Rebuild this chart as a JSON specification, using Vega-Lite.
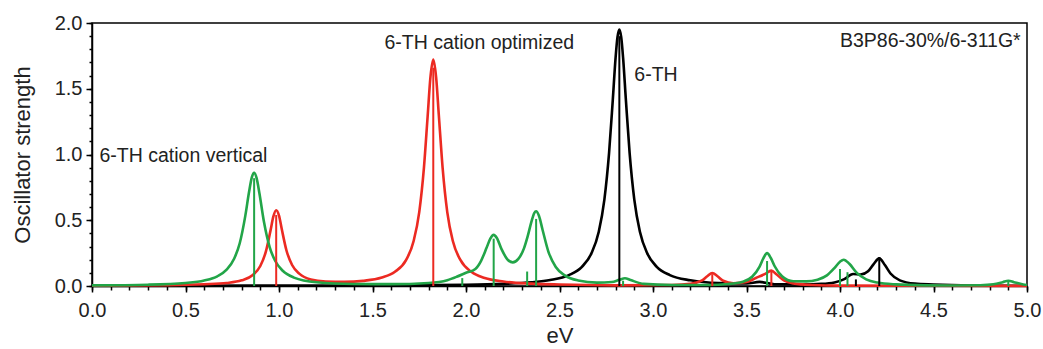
{
  "$schema": "https://vega.github.io/schema/vega-lite/v6.json",
  "width": 935,
  "height": 263,
  "autosize": {"type": "none"},
  "padding": {"left": 92, "top": 23, "right": 16, "bottom": 63},
  "background": "white",
  "config": {
    "view": {"stroke": "#000", "strokeWidth": 1.5},
    "font": "Liberation Sans",
    "axis": {"grid": false, "domainColor": "#000", "domainWidth": 1.5, "tickColor": "#000", "tickWidth": 1.5, "labelColor": "#222", "titleColor": "#222", "labelFont": "Liberation Sans", "titleFont": "Liberation Sans"}
  },
  "datasets": {
    "curves": [
      {"s": "6-TH", "x": 0, "y": 0.001}, {"s": "6-TH", "x": 1.5, "y": 0.004}, {"s": "6-TH", "x": 2.0, "y": 0.009}, {"s": "6-TH", "x": 2.2, "y": 0.016}, {"s": "6-TH", "x": 2.35, "y": 0.028}, {"s": "6-TH", "x": 2.45, "y": 0.045}, {"s": "6-TH", "x": 2.55, "y": 0.083}, {"s": "6-TH", "x": 2.62, "y": 0.146}, {"s": "6-TH", "x": 2.67, "y": 0.246}, {"s": "6-TH", "x": 2.71, "y": 0.413}, {"s": "6-TH", "x": 2.74, "y": 0.657}, {"s": "6-TH", "x": 2.765, "y": 1.01}, {"s": "6-TH", "x": 2.785, "y": 1.416}, {"s": "6-TH", "x": 2.8, "y": 1.737}, {"s": "6-TH", "x": 2.81, "y": 1.892}, {"s": "6-TH", "x": 2.82, "y": 1.95}, {"s": "6-TH", "x": 2.83, "y": 1.892}, {"s": "6-TH", "x": 2.84, "y": 1.737}, {"s": "6-TH", "x": 2.855, "y": 1.416}, {"s": "6-TH", "x": 2.875, "y": 1.01}, {"s": "6-TH", "x": 2.9, "y": 0.657}, {"s": "6-TH", "x": 2.93, "y": 0.413}, {"s": "6-TH", "x": 2.97, "y": 0.246}, {"s": "6-TH", "x": 3.02, "y": 0.146}, {"s": "6-TH", "x": 3.09, "y": 0.083}, {"s": "6-TH", "x": 3.2, "y": 0.043}, {"s": "6-TH", "x": 3.35, "y": 0.022}, {"s": "6-TH", "x": 3.5, "y": 0.019}, {"s": "6-TH", "x": 3.57, "y": 0.031}, {"s": "6-TH", "x": 3.65, "y": 0.013}, {"s": "6-TH", "x": 3.8, "y": 0.012}, {"s": "6-TH", "x": 3.9, "y": 0.016}, {"s": "6-TH", "x": 3.97, "y": 0.027}, {"s": "6-TH", "x": 4.02, "y": 0.05}, {"s": "6-TH", "x": 4.07, "y": 0.091}, {"s": "6-TH", "x": 4.11, "y": 0.087}, {"s": "6-TH", "x": 4.15, "y": 0.112}, {"s": "6-TH", "x": 4.18, "y": 0.167}, {"s": "6-TH", "x": 4.21, "y": 0.21}, {"s": "6-TH", "x": 4.24, "y": 0.159}, {"s": "6-TH", "x": 4.27, "y": 0.095}, {"s": "6-TH", "x": 4.32, "y": 0.043}, {"s": "6-TH", "x": 4.4, "y": 0.018}, {"s": "6-TH", "x": 4.5, "y": 0.011}, {"s": "6-TH", "x": 4.7, "y": 0.004}, {"s": "6-TH", "x": 5.0, "y": 0.002},

      {"s": "6-TH cation optimized", "x": 0, "y": 0.003}, {"s": "6-TH cation optimized", "x": 0.4, "y": 0.006}, {"s": "6-TH cation optimized", "x": 0.6, "y": 0.013}, {"s": "6-TH cation optimized", "x": 0.72, "y": 0.023}, {"s": "6-TH cation optimized", "x": 0.8, "y": 0.043}, {"s": "6-TH cation optimized", "x": 0.86, "y": 0.084}, {"s": "6-TH cation optimized", "x": 0.9, "y": 0.152}, {"s": "6-TH cation optimized", "x": 0.93, "y": 0.263}, {"s": "6-TH cation optimized", "x": 0.955, "y": 0.425}, {"s": "6-TH cation optimized", "x": 0.97, "y": 0.529}, {"s": "6-TH cation optimized", "x": 0.985, "y": 0.576}, {"s": "6-TH cation optimized", "x": 1.0, "y": 0.535}, {"s": "6-TH cation optimized", "x": 1.015, "y": 0.431}, {"s": "6-TH cation optimized", "x": 1.04, "y": 0.27}, {"s": "6-TH cation optimized", "x": 1.07, "y": 0.16}, {"s": "6-TH cation optimized", "x": 1.11, "y": 0.092}, {"s": "6-TH cation optimized", "x": 1.17, "y": 0.05}, {"s": "6-TH cation optimized", "x": 1.25, "y": 0.034}, {"s": "6-TH cation optimized", "x": 1.35, "y": 0.031}, {"s": "6-TH cation optimized", "x": 1.45, "y": 0.039}, {"s": "6-TH cation optimized", "x": 1.55, "y": 0.064}, {"s": "6-TH cation optimized", "x": 1.62, "y": 0.108}, {"s": "6-TH cation optimized", "x": 1.68, "y": 0.199}, {"s": "6-TH cation optimized", "x": 1.72, "y": 0.342}, {"s": "6-TH cation optimized", "x": 1.75, "y": 0.562}, {"s": "6-TH cation optimized", "x": 1.775, "y": 0.898}, {"s": "6-TH cation optimized", "x": 1.795, "y": 1.293}, {"s": "6-TH cation optimized", "x": 1.81, "y": 1.59}, {"s": "6-TH cation optimized", "x": 1.825, "y": 1.722}, {"s": "6-TH cation optimized", "x": 1.84, "y": 1.59}, {"s": "6-TH cation optimized", "x": 1.855, "y": 1.293}, {"s": "6-TH cation optimized", "x": 1.875, "y": 0.898}, {"s": "6-TH cation optimized", "x": 1.9, "y": 0.56}, {"s": "6-TH cation optimized", "x": 1.93, "y": 0.34}, {"s": "6-TH cation optimized", "x": 1.97, "y": 0.198}, {"s": "6-TH cation optimized", "x": 2.03, "y": 0.106}, {"s": "6-TH cation optimized", "x": 2.1, "y": 0.061}, {"s": "6-TH cation optimized", "x": 2.2, "y": 0.034}, {"s": "6-TH cation optimized", "x": 2.35, "y": 0.018}, {"s": "6-TH cation optimized", "x": 2.5, "y": 0.011}, {"s": "6-TH cation optimized", "x": 2.8, "y": 0.005}, {"s": "6-TH cation optimized", "x": 3.1, "y": 0.008}, {"s": "6-TH cation optimized", "x": 3.2, "y": 0.016}, {"s": "6-TH cation optimized", "x": 3.26, "y": 0.04}, {"s": "6-TH cation optimized", "x": 3.29, "y": 0.074}, {"s": "6-TH cation optimized", "x": 3.317, "y": 0.099}, {"s": "6-TH cation optimized", "x": 3.345, "y": 0.074}, {"s": "6-TH cation optimized", "x": 3.375, "y": 0.04}, {"s": "6-TH cation optimized", "x": 3.43, "y": 0.021}, {"s": "6-TH cation optimized", "x": 3.5, "y": 0.03}, {"s": "6-TH cation optimized", "x": 3.55, "y": 0.061}, {"s": "6-TH cation optimized", "x": 3.6, "y": 0.092}, {"s": "6-TH cation optimized", "x": 3.633, "y": 0.117}, {"s": "6-TH cation optimized", "x": 3.66, "y": 0.089}, {"s": "6-TH cation optimized", "x": 3.7, "y": 0.042}, {"s": "6-TH cation optimized", "x": 3.75, "y": 0.02}, {"s": "6-TH cation optimized", "x": 3.85, "y": 0.008}, {"s": "6-TH cation optimized", "x": 4.0, "y": 0.003}, {"s": "6-TH cation optimized", "x": 5.0, "y": 0.001},

      {"s": "6-TH cation vertical", "x": 0, "y": 0.005}, {"s": "6-TH cation vertical", "x": 0.3, "y": 0.01}, {"s": "6-TH cation vertical", "x": 0.5, "y": 0.023}, {"s": "6-TH cation vertical", "x": 0.6, "y": 0.042}, {"s": "6-TH cation vertical", "x": 0.67, "y": 0.074}, {"s": "6-TH cation vertical", "x": 0.72, "y": 0.124}, {"s": "6-TH cation vertical", "x": 0.76, "y": 0.207}, {"s": "6-TH cation vertical", "x": 0.79, "y": 0.325}, {"s": "6-TH cation vertical", "x": 0.82, "y": 0.535}, {"s": "6-TH cation vertical", "x": 0.84, "y": 0.716}, {"s": "6-TH cation vertical", "x": 0.855, "y": 0.828}, {"s": "6-TH cation vertical", "x": 0.867, "y": 0.861}, {"s": "6-TH cation vertical", "x": 0.88, "y": 0.822}, {"s": "6-TH cation vertical", "x": 0.895, "y": 0.707}, {"s": "6-TH cation vertical", "x": 0.92, "y": 0.484}, {"s": "6-TH cation vertical", "x": 0.95, "y": 0.296}, {"s": "6-TH cation vertical", "x": 0.98, "y": 0.19}, {"s": "6-TH cation vertical", "x": 1.02, "y": 0.116}, {"s": "6-TH cation vertical", "x": 1.08, "y": 0.064}, {"s": "6-TH cation vertical", "x": 1.2, "y": 0.028}, {"s": "6-TH cation vertical", "x": 1.4, "y": 0.015}, {"s": "6-TH cation vertical", "x": 1.6, "y": 0.014}, {"s": "6-TH cation vertical", "x": 1.8, "y": 0.023}, {"s": "6-TH cation vertical", "x": 1.9, "y": 0.044}, {"s": "6-TH cation vertical", "x": 1.95, "y": 0.07}, {"s": "6-TH cation vertical", "x": 2.0, "y": 0.101}, {"s": "6-TH cation vertical", "x": 2.05, "y": 0.13}, {"s": "6-TH cation vertical", "x": 2.08, "y": 0.19}, {"s": "6-TH cation vertical", "x": 2.11, "y": 0.29}, {"s": "6-TH cation vertical", "x": 2.13, "y": 0.36}, {"s": "6-TH cation vertical", "x": 2.148, "y": 0.389}, {"s": "6-TH cation vertical", "x": 2.165, "y": 0.365}, {"s": "6-TH cation vertical", "x": 2.19, "y": 0.28}, {"s": "6-TH cation vertical", "x": 2.22, "y": 0.205}, {"s": "6-TH cation vertical", "x": 2.25, "y": 0.18}, {"s": "6-TH cation vertical", "x": 2.28, "y": 0.206}, {"s": "6-TH cation vertical", "x": 2.31, "y": 0.286}, {"s": "6-TH cation vertical", "x": 2.33, "y": 0.379}, {"s": "6-TH cation vertical", "x": 2.35, "y": 0.49}, {"s": "6-TH cation vertical", "x": 2.365, "y": 0.555}, {"s": "6-TH cation vertical", "x": 2.375, "y": 0.568}, {"s": "6-TH cation vertical", "x": 2.39, "y": 0.534}, {"s": "6-TH cation vertical", "x": 2.41, "y": 0.424}, {"s": "6-TH cation vertical", "x": 2.44, "y": 0.264}, {"s": "6-TH cation vertical", "x": 2.48, "y": 0.144}, {"s": "6-TH cation vertical", "x": 2.53, "y": 0.079}, {"s": "6-TH cation vertical", "x": 2.6, "y": 0.042}, {"s": "6-TH cation vertical", "x": 2.7, "y": 0.026}, {"s": "6-TH cation vertical", "x": 2.78, "y": 0.03}, {"s": "6-TH cation vertical", "x": 2.82, "y": 0.047}, {"s": "6-TH cation vertical", "x": 2.85, "y": 0.059}, {"s": "6-TH cation vertical", "x": 2.88, "y": 0.045}, {"s": "6-TH cation vertical", "x": 2.95, "y": 0.016}, {"s": "6-TH cation vertical", "x": 3.1, "y": 0.008}, {"s": "6-TH cation vertical", "x": 3.3, "y": 0.008}, {"s": "6-TH cation vertical", "x": 3.4, "y": 0.015}, {"s": "6-TH cation vertical", "x": 3.48, "y": 0.033}, {"s": "6-TH cation vertical", "x": 3.53, "y": 0.07}, {"s": "6-TH cation vertical", "x": 3.57, "y": 0.148}, {"s": "6-TH cation vertical", "x": 3.59, "y": 0.21}, {"s": "6-TH cation vertical", "x": 3.61, "y": 0.25}, {"s": "6-TH cation vertical", "x": 3.63, "y": 0.213}, {"s": "6-TH cation vertical", "x": 3.65, "y": 0.152}, {"s": "6-TH cation vertical", "x": 3.69, "y": 0.074}, {"s": "6-TH cation vertical", "x": 3.75, "y": 0.036}, {"s": "6-TH cation vertical", "x": 3.82, "y": 0.035}, {"s": "6-TH cation vertical", "x": 3.88, "y": 0.048}, {"s": "6-TH cation vertical", "x": 3.93, "y": 0.081}, {"s": "6-TH cation vertical", "x": 3.97, "y": 0.136}, {"s": "6-TH cation vertical", "x": 4.0, "y": 0.185}, {"s": "6-TH cation vertical", "x": 4.02, "y": 0.2}, {"s": "6-TH cation vertical", "x": 4.05, "y": 0.169}, {"s": "6-TH cation vertical", "x": 4.09, "y": 0.1}, {"s": "6-TH cation vertical", "x": 4.14, "y": 0.051}, {"s": "6-TH cation vertical", "x": 4.2, "y": 0.026}, {"s": "6-TH cation vertical", "x": 4.3, "y": 0.012}, {"s": "6-TH cation vertical", "x": 4.45, "y": 0.005}, {"s": "6-TH cation vertical", "x": 4.6, "y": 0.004}, {"s": "6-TH cation vertical", "x": 4.75, "y": 0.006}, {"s": "6-TH cation vertical", "x": 4.82, "y": 0.013}, {"s": "6-TH cation vertical", "x": 4.87, "y": 0.029}, {"s": "6-TH cation vertical", "x": 4.9, "y": 0.04}, {"s": "6-TH cation vertical", "x": 4.93, "y": 0.029}, {"s": "6-TH cation vertical", "x": 4.98, "y": 0.012}, {"s": "6-TH cation vertical", "x": 5.0, "y": 0.008}
    ],
    "sticks": [
      {"s": "6-TH", "x": 2.82, "f": 1.9}, {"s": "6-TH", "x": 4.085, "f": 0.05}, {"s": "6-TH", "x": 4.21, "f": 0.22},
      {"s": "6-TH cation optimized", "x": 0.985, "f": 0.54}, {"s": "6-TH cation optimized", "x": 1.825, "f": 1.66}, {"s": "6-TH cation optimized", "x": 3.317, "f": 0.09}, {"s": "6-TH cation optimized", "x": 3.633, "f": 0.12},
      {"s": "6-TH cation vertical", "x": 0.867, "f": 0.82}, {"s": "6-TH cation vertical", "x": 1.98, "f": 0.06}, {"s": "6-TH cation vertical", "x": 2.148, "f": 0.36}, {"s": "6-TH cation vertical", "x": 2.327, "f": 0.11}, {"s": "6-TH cation vertical", "x": 2.375, "f": 0.51}, {"s": "6-TH cation vertical", "x": 2.84, "f": 0.04}, {"s": "6-TH cation vertical", "x": 3.61, "f": 0.19}, {"s": "6-TH cation vertical", "x": 4.0, "f": 0.13}, {"s": "6-TH cation vertical", "x": 4.04, "f": 0.105}, {"s": "6-TH cation vertical", "x": 4.9, "f": 0.04}
    ],
    "labels": [
      {"x": 0.04, "y": 0.945, "t": "6-TH cation vertical"},
      {"x": 1.564, "y": 1.805, "t": "6-TH cation optimized"},
      {"x": 2.9, "y": 1.56, "t": "6-TH"},
      {"x": 4.0, "y": 1.815, "t": "B3P86-30%/6-311G*"}
    ]
  },
  "layer": [
    {
      "data": {"name": "curves"},
      "mark": {"type": "line", "strokeWidth": 2.6, "interpolate": "monotone"},
      "encoding": {
        "x": {"field": "x", "type": "quantitative", "scale": {"domain": [0, 5], "nice": false, "zero": false},
          "axis": {"orient": "bottom", "values": [0, 0.5, 1, 1.5, 2, 2.5, 3, 3.5, 4, 4.5, 5], "format": ".1f", "labelFontSize": 20, "labelPadding": 8, "tickSize": 6, "labelFlush": false, "labelOverlap": false, "title": "eV", "titleFontSize": 22, "titleFontWeight": "normal", "titlePadding": 5}},
        "y": {"field": "y", "type": "quantitative", "scale": {"domain": [0, 2], "nice": false},
          "axis": {"orient": "left", "values": [0, 0.5, 1, 1.5, 2], "format": ".1f", "labelFontSize": 20, "labelPadding": 4, "tickSize": 6, "labelFlush": false, "labelOverlap": false, "title": "Oscillator strength", "titleFontSize": 22, "titleFontWeight": "normal", "titlePadding": 20}},
        "color": {"field": "s", "type": "nominal", "scale": {"domain": ["6-TH", "6-TH cation optimized", "6-TH cation vertical"], "range": ["#000000", "#ec2a22", "#22a548"]}, "legend": null}
      }
    },
    {
      "data": {"name": "sticks"},
      "mark": {"type": "rule", "strokeWidth": 2},
      "encoding": {
        "x": {"field": "x", "type": "quantitative",
          "axis": {"orient": "bottom", "values": [0, 0.1, 0.2, 0.3, 0.4, 0.5, 0.6, 0.7, 0.8, 0.9, 1, 1.1, 1.2, 1.3, 1.4, 1.5, 1.6, 1.7, 1.8, 1.9, 2, 2.1, 2.2, 2.3, 2.4, 2.5, 2.6, 2.7, 2.8, 2.9, 3, 3.1, 3.2, 3.3, 3.4, 3.5, 3.6, 3.7, 3.8, 3.9, 4, 4.1, 4.2, 4.3, 4.4, 4.5, 4.6, 4.7, 4.8, 4.9, 5], "labels": false, "domain": false, "tickSize": 4, "title": null}},
        "y": {"field": "f", "type": "quantitative",
          "axis": {"orient": "left", "values": [0, 0.1, 0.2, 0.3, 0.4, 0.5, 0.6, 0.7, 0.8, 0.9, 1, 1.1, 1.2, 1.3, 1.4, 1.5, 1.6, 1.7, 1.8, 1.9, 2], "labels": false, "domain": false, "tickSize": 3, "title": null}},
        "y2": {"datum": 0},
        "color": {"field": "s", "type": "nominal", "legend": null}
      }
    },
    {
      "data": {"name": "labels"},
      "mark": {"type": "text", "align": "left", "baseline": "alphabetic", "fontSize": 19.5, "font": "Liberation Sans", "color": "#222"},
      "encoding": {
        "x": {"field": "x", "type": "quantitative", "axis": null},
        "y": {"field": "y", "type": "quantitative", "axis": null},
        "text": {"field": "t"}
      }
    }
  ],
  "resolve": {"axis": {"x": "independent", "y": "independent"}}
}
